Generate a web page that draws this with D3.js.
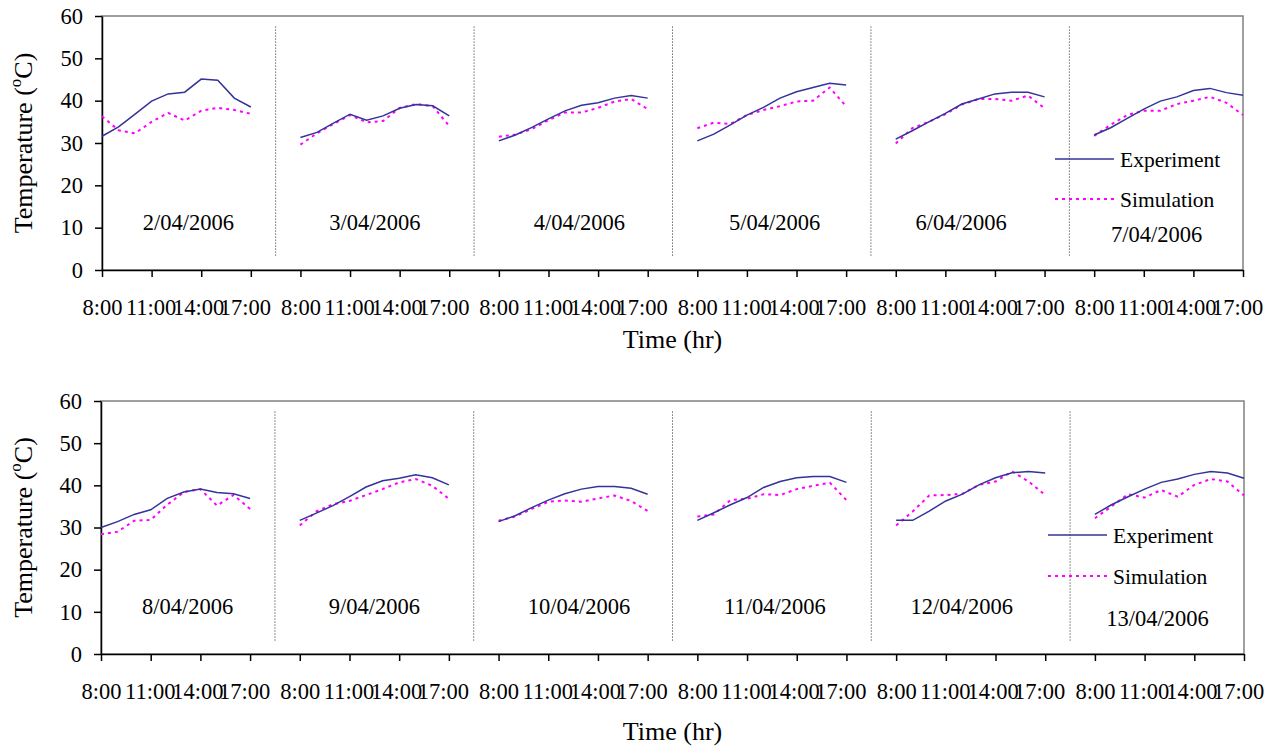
<!DOCTYPE html>
<html lang="en">
<head>
<meta charset="utf-8">
<title>Temperature: experiment vs simulation</title>
<script src="https://cdn.jsdelivr.net/npm/d3@7"></script>
<style>
  body { margin: 0; background: #ffffff; }
  svg { display: block; font-family: "Liberation Serif", "Times New Roman", serif; }
  .axis path, .axis line { stroke: #000; stroke-width: 1.5; }
  .axis text { fill: #000; font-family: "Liberation Serif", "Times New Roman", serif; }
</style>
</head>
<body>
<script>
// ---- data ----
var tickLabels = ["8:00", "11:00", "14:00", "17:00"];
var hourSteps = [0, 1, 2, 3, 4, 5, 6, 7, 8, 9];   // 8:00 .. 17:00
var yTicks = [0, 10, 20, 30, 40, 50, 60];

var datesTop = ["2/04/2006", "3/04/2006", "4/04/2006", "5/04/2006", "6/04/2006", "7/04/2006"];
var expTop = [
  [31.6, 33.8, 36.8, 39.9, 41.6, 42.0, 45.1, 44.8, 40.6, 38.5],
  [31.3, 32.5, 34.7, 36.8, 35.4, 36.4, 38.2, 39.1, 38.8, 36.4],
  [30.5, 31.9, 33.7, 35.7, 37.6, 38.9, 39.5, 40.6, 41.2, 40.6],
  [30.5, 32.1, 34.3, 36.6, 38.4, 40.6, 42.1, 43.1, 44.1, 43.7],
  [30.9, 32.9, 35.0, 37.0, 39.2, 40.4, 41.6, 42.0, 42.0, 40.9],
  [31.9, 33.6, 35.8, 38.0, 39.9, 40.9, 42.4, 42.9, 41.9, 41.3]
];
var simTop = [
  [36.3, 33.0, 32.3, 35.0, 37.1, 35.3, 37.6, 38.3, 37.8, 36.9],
  [29.6, 32.3, 34.5, 36.6, 34.9, 35.2, 38.3, 39.2, 38.7, 34.0],
  [31.5, 32.0, 33.3, 35.4, 37.2, 37.2, 38.3, 39.8, 40.4, 38.0],
  [33.5, 34.8, 34.5, 36.6, 37.8, 38.7, 39.8, 40.0, 43.1, 38.7],
  [29.9, 33.5, 35.0, 36.8, 39.1, 40.4, 40.4, 40.0, 41.2, 38.2],
  [31.7, 34.3, 36.6, 37.6, 37.6, 39.2, 40.0, 40.9, 39.5, 36.6]
];

var datesBottom = ["8/04/2006", "9/04/2006", "10/04/2006", "11/04/2006", "12/04/2006", "13/04/2006"];
var expBottom = [
  [30.0, 31.4, 33.1, 34.2, 36.9, 38.4, 39.1, 38.3, 38.0, 36.9],
  [31.7, 33.4, 35.2, 37.3, 39.6, 41.1, 41.7, 42.5, 41.8, 40.1],
  [31.4, 32.8, 34.7, 36.5, 38.0, 39.1, 39.7, 39.7, 39.3, 37.9],
  [31.7, 33.5, 35.4, 37.1, 39.5, 40.9, 41.8, 42.1, 42.1, 40.7],
  [31.7, 31.7, 33.9, 36.3, 37.9, 40.1, 41.8, 43.0, 43.3, 42.9],
  [33.1, 35.4, 37.3, 39.1, 40.7, 41.5, 42.6, 43.3, 42.9, 41.7]
];
var simBottom = [
  [28.4, 29.0, 31.6, 31.8, 35.4, 38.4, 39.1, 35.2, 37.7, 34.4],
  [30.5, 33.8, 35.5, 36.3, 37.7, 39.1, 40.7, 41.5, 39.9, 36.8],
  [31.6, 32.6, 34.4, 36.1, 36.4, 36.1, 36.9, 37.6, 36.3, 33.9],
  [32.6, 33.1, 36.5, 36.8, 37.9, 37.7, 39.1, 39.9, 40.6, 36.5],
  [30.5, 33.8, 37.6, 37.7, 38.0, 40.1, 40.9, 43.3, 40.9, 37.7],
  [32.2, 35.0, 37.9, 37.1, 38.9, 37.3, 40.1, 41.5, 40.9, 37.6]
];

var seriesNames = ["Experiment", "Simulation"];

// ---- layout ----
var width = 1280, height = 747;
var hoursPerDay = 12;              // each day takes 12 hourly slots on the axis
var labelNudge = [12, 0, 6, 3, -9, -12];
var labelDrop = [0, 0, 0, 0, 0, 12];
var tickShift = [0, -1, -3, -6];   // crowded labels drift left like in the original

var svg = d3.select("body").append("svg")
    .attr("width", width)
    .attr("height", height);

var panels = [
  { left: 102, right: 1243, top: 16, bottom: 270, dates: datesTop, exp: expTop, sim: simTop,
    titleY: 348, legX: 1055, legY: [159, 199] },
  { left: 101, right: 1244, top: 401, bottom: 654, dates: datesBottom, exp: expBottom, sim: simBottom,
    titleY: 740, legX: 1048, legY: [535, 576] }
];

panels.forEach(function(p) {
  var nDays = p.dates.length;
  var x = d3.scaleLinear()
      .domain([0, (nDays - 1) * hoursPerDay + 9])
      .range([p.left, p.right]);
  var y = d3.scaleLinear().domain([0, 60]).range([p.bottom, p.top]);

  var g = svg.append("g");

  // plot frame (top/right grey)
  g.append("rect")
      .attr("x", p.left).attr("y", p.top)
      .attr("width", p.right - p.left).attr("height", p.bottom - p.top)
      .attr("fill", "none").attr("stroke", "#808080").attr("stroke-width", 1.5);

  // dotted day separators
  d3.range(nDays - 1).forEach(function(d) {
    var sx = x(d * hoursPerDay + 10.5);
    g.append("line")
        .attr("x1", sx).attr("x2", sx)
        .attr("y1", y(57.5)).attr("y2", y(3))
        .attr("stroke", "#222").attr("stroke-width", 1)
        .attr("stroke-dasharray", "1,2");
  });

  // axes
  var tickVals = [];
  d3.range(nDays).forEach(function(d) {
    [0, 3, 6, 9].forEach(function(h) { tickVals.push(d * hoursPerDay + h); });
  });
  var xAxis = g.append("g").attr("class", "axis")
      .attr("transform", "translate(0," + p.bottom + ")")
      .call(d3.axisBottom(x).tickValues(tickVals).tickSizeInner(7).tickSizeOuter(0).tickPadding(22)
        .tickFormat(function(v) { return tickLabels[(v % hoursPerDay) / 3]; }));
  xAxis.selectAll(".tick text")
      .style("font-size", "22.5px")
      .attr("dx", function(v) { return tickShift[(v % hoursPerDay) / 3]; });

  g.append("g").attr("class", "axis")
      .attr("transform", "translate(" + p.left + ",0)")
      .call(d3.axisLeft(y).tickValues(yTicks).tickSizeInner(7).tickSizeOuter(0).tickPadding(12))
      .selectAll(".tick text").style("font-size", "22.5px");

  // lines
  var line = d3.line()
      .x(function(d) { return x(d.t); })
      .y(function(d) { return y(d.v); });

  function pts(arr, d) {
    return hourSteps.map(function(h, i) { return { t: d * hoursPerDay + h, v: arr[i] }; });
  }

  p.sim.forEach(function(arr, d) {
    g.append("path").datum(pts(arr, d))
        .attr("d", line).attr("fill", "none")
        .attr("stroke", "#ff00ff").attr("stroke-width", 2)
        .attr("stroke-dasharray", "3,4");
  });
  p.exp.forEach(function(arr, d) {
    g.append("path").datum(pts(arr, d))
        .attr("d", line).attr("fill", "none")
        .attr("stroke", "#333399").attr("stroke-width", 1.5);
  });

  // date labels
  p.dates.forEach(function(label, d) {
    g.append("text")
        .attr("x", x(d * hoursPerDay + 4.5) + labelNudge[d])
        .attr("y", y(0) - 40 + labelDrop[d])
        .attr("text-anchor", "middle")
        .style("font-size", "22.5px")
        .text(label);
  });

  // axis titles
  g.append("text")
      .attr("x", (p.left + p.right) / 2).attr("y", p.titleY)
      .attr("text-anchor", "middle").style("font-size", "26px")
      .text("Time (hr)");

  var yt = g.append("text")
      .attr("transform", "translate(32," + (p.top + p.bottom) / 2 + ") rotate(-90)")
      .attr("text-anchor", "middle").style("font-size", "26px");
  yt.append("tspan").text("Temperature (");
  yt.append("tspan").style("font-size", "17px").attr("dy", -11).text("o");
  yt.append("tspan").attr("dy", 11).text("C)");

  // legend
  seriesNames.forEach(function(name, i) {
    var ly = p.legY[i];
    g.append("line")
        .attr("x1", p.legX).attr("x2", p.legX + 59)
        .attr("y1", ly).attr("y2", ly)
        .attr("stroke", i === 0 ? "#333399" : "#ff00ff")
        .attr("stroke-width", i === 0 ? 1.5 : 2)
        .attr("stroke-dasharray", i === 0 ? null : "3,4");
    g.append("text")
        .attr("x", p.legX + 65).attr("y", ly + 8)
        .style("font-size", "21.5px")
        .text(name);
  });
});
</script>
</body>
</html>
